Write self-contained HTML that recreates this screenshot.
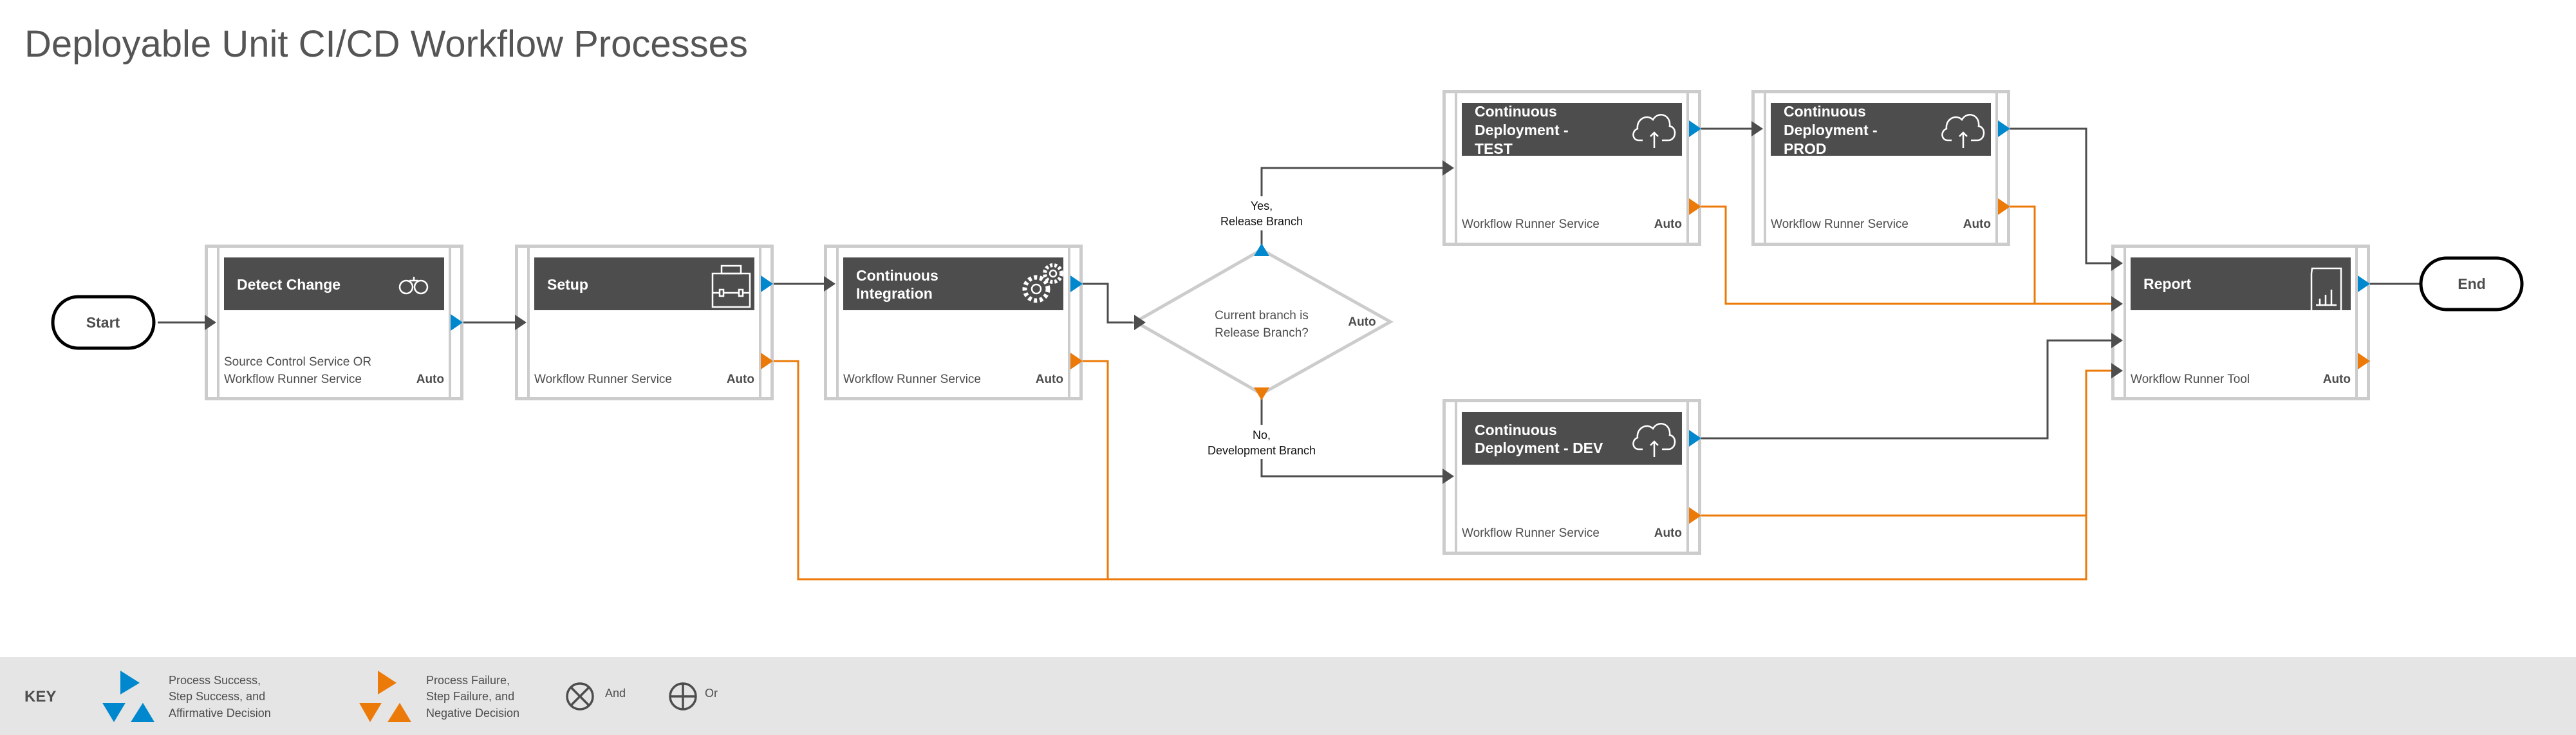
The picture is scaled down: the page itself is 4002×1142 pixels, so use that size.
<!DOCTYPE html>
<html><head><meta charset="utf-8"><style>
html,body{margin:0;padding:0;background:#fff;}
svg{display:block;font-family:"Liberation Sans",sans-serif;}
.t{fill:#fff;font-weight:bold;font-size:23px;}
.s{fill:#4d4d4d;font-size:19px;}
.a{fill:#4d4d4d;font-size:19px;font-weight:bold;}
.k{fill:#4d4d4d;font-size:18px;}
.l{fill:#111;font-size:18px;}
</style></head><body>
<svg width="4002" height="1142" viewBox="0 0 4002 1142" xmlns="http://www.w3.org/2000/svg">
<defs>
<g id="box">
<rect x="2.5" y="2.5" width="397" height="237" fill="#fff" stroke="#ccc" stroke-width="5"/>
<line x1="21" y1="2" x2="21" y2="240" stroke="#ccc" stroke-width="4"/>
<line x1="381" y1="2" x2="381" y2="240" stroke="#ccc" stroke-width="4"/>
<rect x="30" y="20" width="342" height="82" fill="#4d4d4d"/>
</g>
<path id="inA" d="M0,-12 L18,0 L0,12Z" fill="#4d4d4d"/>
<path id="blue" d="M0,-13 L19,0 L0,13Z" fill="#0088ce"/>
<path id="org" d="M0,-13 L19,0 L0,13Z" fill="#ec7a08"/>
<g id="cloud" fill="none" stroke="#fff" stroke-width="2.5">
<path d="M-18,22 L-24,22 C-34,22 -36,8 -26,4 C-28,-10 -12,-20 -2,-10 C6,-24 26,-18 24,0 C36,2 34,22 22,22 L12,22"/>
<path d="M0,34 L0,10 M-6,16 L0,10 L6,16"/>
</g>
</defs>

<text x="38" y="88" font-size="58" fill="#555">Deployable Unit CI/CD Workflow Processes</text>

<!-- connectors dark -->
<g fill="none" stroke="#4d4d4d" stroke-width="3">
<path d="M245,501 H318"/>
<path d="M719,501 H800"/>
<path d="M1201,441 H1280"/>
<path d="M1682,441 H1721 V501 H1762"/>
<path d="M1960,380 V358 M1960,305 V261 H2241"/>
<path d="M1960,618 V660 M1960,713 V740 H2241"/>
<path d="M2643,200 H2721"/>
<path d="M3123,200 H3241 V409 H3280"/>
<path d="M2643,681 H3181 V529 H3280"/>
<path d="M3682,441 H3760"/>
</g>
<g fill="none" stroke="#ec7a08" stroke-width="3">
<path d="M1201,561 H1240 V900 H3241 V576 H3280"/>
<path d="M1682,561 H1721 V900"/>
<path d="M2643,321 H2681 V472 H3280"/>
<path d="M3123,321 H3161 V472"/>
<path d="M2643,801 H3241"/>
</g>

<!-- Start / End -->
<rect x="82" y="461" width="157" height="80" rx="40" fill="#fff" stroke="#000" stroke-width="5"/>
<text x="160" y="509" text-anchor="middle" font-size="23" font-weight="bold" fill="#4d4d4d">Start</text>
<rect x="3761" y="401" width="157" height="80" rx="40" fill="#fff" stroke="#000" stroke-width="5"/>
<text x="3840" y="449" text-anchor="middle" font-size="23" font-weight="bold" fill="#4d4d4d">End</text>

<!-- Detect Change -->
<g transform="translate(318,380)"><use href="#box"/>
<text class="t" x="50" y="70">Detect Change</text>
<g fill="none" stroke="#fff" stroke-width="2.5"><circle cx="313" cy="66" r="10"/><circle cx="336" cy="66" r="10"/><path d="M318,56 h14 M325,56 v-6"/></g>
<text class="s" x="30" y="188">Source Control Service OR</text>
<text class="s" x="30" y="215">Workflow Runner Service</text>
<text class="a" x="372" y="215" text-anchor="end">Auto</text>
</g>
<use href="#inA" x="318" y="501"/><use href="#blue" x="700" y="501"/>

<!-- Setup -->
<g transform="translate(800,380)"><use href="#box"/>
<text class="t" x="50" y="70">Setup</text>
<g fill="none" stroke="#fff" stroke-width="2.5"><rect x="307" y="45" width="58" height="52"/><rect x="321" y="33" width="30" height="12"/><path d="M307,75 h58"/><rect x="318" y="70" width="6" height="10" fill="#4d4d4d"/><rect x="348" y="70" width="6" height="10" fill="#4d4d4d"/></g>
<text class="s" x="30" y="215">Workflow Runner Service</text>
<text class="a" x="372" y="215" text-anchor="end">Auto</text>
</g>
<use href="#inA" x="800" y="501"/><use href="#blue" x="1182" y="441"/><use href="#org" x="1182" y="561"/>

<!-- CI -->
<g transform="translate(1280,380)"><use href="#box"/>
<text class="t" x="50" y="56">Continuous</text>
<text class="t" x="50" y="84">Integration</text>
<g fill="none" stroke="#fff" stroke-width="2.5"><circle cx="330" cy="69" r="18" stroke-dasharray="5 4" stroke-width="7"/><circle cx="330" cy="69" r="7"/><circle cx="356" cy="45" r="13" stroke-dasharray="4 3" stroke-width="6"/><circle cx="356" cy="45" r="5"/></g>
<text class="s" x="30" y="215">Workflow Runner Service</text>
<text class="a" x="372" y="215" text-anchor="end">Auto</text>
</g>
<use href="#inA" x="1280" y="441"/><use href="#blue" x="1663" y="441"/><use href="#org" x="1663" y="561"/>

<!-- Diamond -->
<path d="M1960,388 L2160,500 L1960,612 L1764,500Z" fill="#fff" stroke="#ccc" stroke-width="5"/>
<text class="s" x="1960" y="496" text-anchor="middle">Current branch is</text>
<text class="s" x="1960" y="523" text-anchor="middle">Release Branch?</text>
<text class="a" x="2116" y="506" text-anchor="middle">Auto</text>
<use href="#inA" x="1762" y="501"/>
<path d="M1948,398 L1960,378 L1972,398Z" fill="#0088ce"/>
<path d="M1948,602 L1960,622 L1972,602Z" fill="#ec7a08"/>
<text class="l" x="1960" y="326" text-anchor="middle">Yes,</text>
<text class="l" x="1960" y="350" text-anchor="middle">Release Branch</text>
<text class="l" x="1960" y="682" text-anchor="middle">No,</text>
<text class="l" x="1960" y="706" text-anchor="middle">Development Branch</text>

<!-- CD TEST -->
<g transform="translate(2241,140)"><use href="#box"/>
<text class="t" x="50" y="41">Continuous</text>
<text class="t" x="50" y="70">Deployment -</text>
<text class="t" x="50" y="99">TEST</text>
<use href="#cloud" x="329" y="56"/>
<text class="s" x="30" y="214">Workflow Runner Service</text>
<text class="a" x="372" y="214" text-anchor="end">Auto</text>
</g>
<use href="#inA" x="2241" y="261"/><use href="#blue" x="2624" y="200"/><use href="#org" x="2624" y="321"/>

<!-- CD PROD -->
<g transform="translate(2721,140)"><use href="#box"/>
<text class="t" x="50" y="41">Continuous</text>
<text class="t" x="50" y="70">Deployment -</text>
<text class="t" x="50" y="99">PROD</text>
<use href="#cloud" x="329" y="56"/>
<text class="s" x="30" y="214">Workflow Runner Service</text>
<text class="a" x="372" y="214" text-anchor="end">Auto</text>
</g>
<use href="#inA" x="2721" y="200"/><use href="#blue" x="3104" y="200"/><use href="#org" x="3104" y="321"/>

<!-- CD DEV -->
<g transform="translate(2241,620)"><use href="#box"/>
<text class="t" x="50" y="56">Continuous</text>
<text class="t" x="50" y="84">Deployment - DEV</text>
<use href="#cloud" x="329" y="56"/>
<text class="s" x="30" y="214">Workflow Runner Service</text>
<text class="a" x="372" y="214" text-anchor="end">Auto</text>
</g>
<use href="#inA" x="2241" y="740"/><use href="#blue" x="2624" y="681"/><use href="#org" x="2624" y="801"/>

<!-- Report -->
<g transform="translate(3280,380)"><use href="#box"/>
<text class="t" x="50" y="69">Report</text>
<g fill="none" stroke="#fff" stroke-width="2.5"><path d="M312,37 h45 v68 h-46 v-60z"/><path d="M318,94 h32 M324,94 v-10 M333,94 v-16 M342,94 v-24"/></g>
<text class="s" x="30" y="215">Workflow Runner Tool</text>
<text class="a" x="372" y="215" text-anchor="end">Auto</text>
</g>
<use href="#inA" x="3280" y="409"/><use href="#inA" x="3280" y="472"/><use href="#inA" x="3280" y="529"/><use href="#inA" x="3280" y="576"/>
<use href="#blue" x="3663" y="441"/><use href="#org" x="3663" y="561"/>

<!-- Key -->
<rect x="0" y="1021" width="4002" height="121" fill="#e5e5e5"/>
<text x="38" y="1090" font-size="24" font-weight="bold" fill="#4d4d4d">KEY</text>
<path d="M187,1042 L217,1061 L187,1079Z" fill="#0088ce"/>
<path d="M159,1092 L195,1092 L177,1122Z" fill="#0088ce"/>
<path d="M203,1122 L240,1122 L222,1092Z" fill="#0088ce"/>
<text class="k" x="262" y="1063">Process Success,</text>
<text class="k" x="262" y="1088">Step Success, and</text>
<text class="k" x="262" y="1114">Affirmative Decision</text>
<path d="M587,1042 L616,1061 L587,1079Z" fill="#ec7a08"/>
<path d="M558,1092 L593,1092 L575,1122Z" fill="#ec7a08"/>
<path d="M602,1122 L639,1122 L621,1092Z" fill="#ec7a08"/>
<text class="k" x="662" y="1063">Process Failure,</text>
<text class="k" x="662" y="1088">Step Failure, and</text>
<text class="k" x="662" y="1114">Negative Decision</text>
<g fill="none" stroke="#4d4d4d" stroke-width="3.5">
<circle cx="901" cy="1082" r="20"/><path d="M887,1068 L915,1096 M915,1068 L887,1096"/>
<circle cx="1061" cy="1082" r="20"/><path d="M1041,1082 H1081 M1061,1062 V1102"/>
</g>
<text class="k" x="940" y="1083">And</text>
<text class="k" x="1095" y="1083">Or</text>
</svg>
</body></html>
